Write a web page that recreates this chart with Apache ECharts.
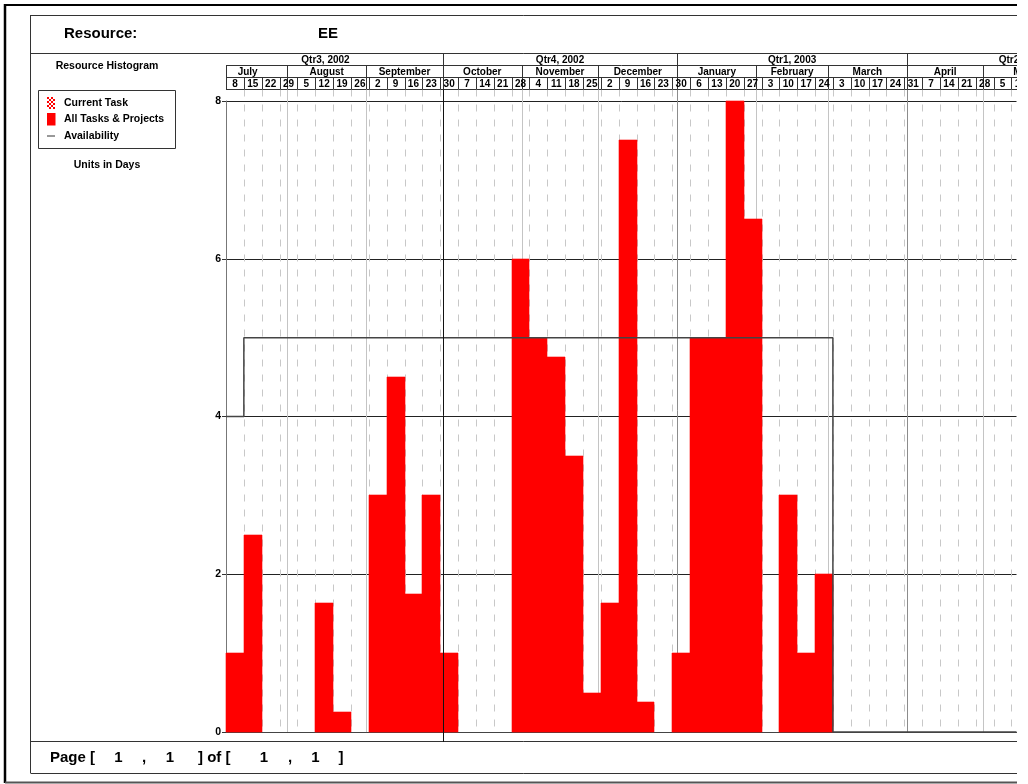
<!DOCTYPE html>
<html><head><meta charset="utf-8">
<script src="https://cdn.jsdelivr.net/npm/echarts@6/dist/echarts.min.js"></script>
<style>html,body{margin:0;padding:0;background:#fff;} #c{width:1017px;height:784px;}</style>
</head><body><div id="c"></div>
<script>
// ---------- data ----------
const resourceName = 'EE';
// week start labels (Mondays), first week = 8 July 2002 (day 0)
const weekLabels = ['8','15','22','29','5','12','19','26','2','9','16','23','30','7','14','21','28','4','11','18','25','2','9','16','23','30','6','13','20','27','3','10','17','24','3','10','17','24','31','7','14','21','28','5','12'];
// weekly work load (units in days)
const weekLoads = [1, 2.5, 0, 0, 0, 1.63, 0.25, 0, 3, 4.5, 1.75, 3, 1, 0, 0, 0, 6, 5, 4.75, 3.5, 0.5, 1.63, 7.5, 0.38, 0, 1, 5, 5, 8, 6.5, 0, 3, 1, 2, 0, 0, 0, 0, 0, 0, 0, 0, 0, 0, 0];
const monthNames = ['July','August','September','October','November','December','January','February','March','April','May'];
const monthStarts = [-7, 24, 55, 85, 116, 146, 177, 208, 236, 267, 297, 328]; // days from 8 Jul 2002
const quarterNames = ['Qtr3, 2002','Qtr4, 2002','Qtr1, 2003','Qtr2, 2003'];
const quarterStarts = [-7, 85, 177, 267, 358];
const currentDateDay = 85;
// availability step line
const availDays = [0, 7, 238, 310];
const availUnits = [4, 5, 0, 0];
const legendItems = ['Current Task', 'All Tasks & Projects', 'Availability'];

// ---------- layout ----------
const F = (s) => 'bold ' + s + 'px "Liberation Sans", Arial, Helvetica, sans-serif';
const X_MAX = 310;
const Y_HDR = 53, Y_MON = 65.5, Y_WK = 77.5, Y_WKB = 89.5;
const RIGHT = 1017;

const chart = echarts.init(document.getElementById('c'), null, {renderer: 'canvas'});

function weekGridRender(params, api) {
  const i = params.dataIndex;
  if (i === 0) return null;
  const x0 = Math.round(api.coord([api.value(0), 0])[0]) + 0.5;
  const yb = api.coord([0, 0])[1];
  return {type: 'line', shape: {x1: x0, y1: Y_WKB, x2: x0, y2: yb}, style: {stroke: '#c8c8c8', lineWidth: 1, lineDash: [7, 8]}};
}
function weekRender(params, api) {
  const i = params.dataIndex;
  const x0 = api.coord([api.value(0), 0])[0];
  const x1 = api.coord([api.value(1), 0])[0];
  const xs = Math.round(x0) + 0.5;
  const ch = [];
  ch.push({type: 'line', shape: {x1: xs, y1: Y_WK, x2: xs, y2: Y_WKB}, style: {stroke: '#333', lineWidth: 1}});
  ch.push({type: 'text', z2: 10, x: (x0 + x1) / 2, y: (Y_WK + Y_WKB) / 2 + 0.5, style: {text: weekLabels[i], font: F(10), fill: '#000', align: 'center', verticalAlign: 'middle'}});
  return {type: 'group', children: ch};
}
function monthRender(params, api) {
  const i = params.dataIndex;
  const s = api.value(0);
  const x0 = api.coord([s, 0])[0];
  const x1 = api.coord([api.value(1), 0])[0];
  const xs = Math.round(x0) + 0.5;
  const yb = api.coord([0, 0])[1];
  const ch = [];
  if (s >= 0) {
    ch.push({type: 'line', shape: {x1: xs, y1: Y_MON, x2: xs, y2: Y_WKB}, style: {stroke: '#333', lineWidth: 1}});
    if (s !== currentDateDay) {
      const isQ = quarterStarts.indexOf(s) >= 0;
      ch.push({type: 'line', shape: {x1: xs, y1: Y_WKB, x2: xs, y2: yb}, style: {stroke: isQ ? '#8c8c8c' : '#c4c4c4', lineWidth: 1}});
    }
  }
  ch.push({type: 'text', x: (x0 + x1) / 2, y: (Y_MON + Y_WK) / 2 + 0.5, style: {text: monthNames[i], font: F(10), fill: '#000', align: 'center', verticalAlign: 'middle'}});
  return {type: 'group', children: ch};
}
function quarterRender(params, api) {
  const i = params.dataIndex;
  const s = api.value(0);
  const x0 = api.coord([s, 0])[0];
  const x1 = api.coord([api.value(1), 0])[0];
  const xs = Math.round(x0) + 0.5;
  const ch = [];
  if (s >= 0) {
    ch.push({type: 'line', shape: {x1: xs, y1: Y_HDR, x2: xs, y2: Y_WKB}, style: {stroke: '#333', lineWidth: 1}});
    if (s === currentDateDay) {
      ch.push({type: 'line', shape: {x1: xs, y1: Y_WKB, x2: xs, y2: 742}, style: {stroke: '#111', lineWidth: 1}});
    }
  }
  ch.push({type: 'text', x: (x0 + x1) / 2, y: (Y_HDR + Y_MON) / 2 + 0.5, style: {text: quarterNames[i], font: F(10), fill: '#000', align: 'center', verticalAlign: 'middle'}});
  return {type: 'group', children: ch};
}
function barRender(params, api) {
  const v = api.value(2);
  if (!(v > 0)) return null;
  const p0 = api.coord([api.value(0), v]);
  const p1 = api.coord([api.value(1), 0]);
  const x0 = Math.round(p0[0]), x1 = Math.round(p1[0]);
  const y0 = Math.round(p0[1]), y1 = Math.round(p1[1]);
  return {type: 'rect', shape: {x: x0, y: y0, width: x1 - x0, height: y1 - y0}, style: {fill: '#ff0000', stroke: '#ff0000', lineWidth: 0.6}};
}

// left panel graphics
const checker = [];
for (let r = 0; r < 6; r++) for (let c = 0; c < 4; c++) {
  if ((r + c) % 2 === 0) checker.push({type: 'rect', shape: {x: 47 + c * 2, y: 97 + r * 2, width: 2, height: 2}, style: {fill: '#ff0000'}});
}
const ln = (x1, y1, x2, y2, stroke, w) => ({type: 'line', silent: true, shape: {x1, y1, x2, y2}, style: {stroke, lineWidth: w || 1}});
const tx = (text, x, y, size, align) => ({type: 'text', silent: true, x, y, style: {text, font: F(size), fill: '#000', align: align || 'left', verticalAlign: 'middle'}});

const graphic = [
  // outer border
  ln(5, 5, RIGHT, 5, '#000', 2),
  ln(5, 4, 5, 783, '#000', 2.5),
  ln(5, 782.5, RIGHT, 782.5, '#555', 2),
  // inner frame
  ln(30.5, 15, 30.5, 773, '#333', 1),
  ln(30.5, 15.5, RIGHT, 15.5, '#333', 1),
  ln(30.5, 773.5, RIGHT, 773.5, '#333', 1),
  ln(30.5, 53.5, RIGHT, 53.5, '#333', 1),
  ln(30.5, 741.5, RIGHT, 741.5, '#333', 1),
  // timescale rows
  ln(226, Y_MON, RIGHT, Y_MON, '#333', 1),
  ln(226, Y_WK, RIGHT, Y_WK, '#333', 1),
  ln(226, Y_WKB, RIGHT, Y_WKB, '#333', 1),
  ln(226.5, Y_MON, 226.5, Y_WKB, '#333', 1),
  // header text
  tx('Resource:', 64, 34, 15),
  tx(resourceName, 318, 34, 15),
  tx('Resource Histogram', 107, 66, 10.5, 'center'),
  // legend box
  {type: 'rect', silent: true, shape: {x: 38.5, y: 90.5, width: 137, height: 58}, style: {fill: 'none', stroke: '#333', lineWidth: 1}},
  {type: 'group', children: checker},
  {type: 'rect', silent: true, shape: {x: 47, y: 113, width: 8.5, height: 12.5}, style: {fill: '#ff0000'}},
  ln(47, 136, 55, 136, '#333', 1),
  tx(legendItems[0], 64, 103, 10.5),
  tx(legendItems[1], 64, 119.5, 10.5),
  tx(legendItems[2], 64, 136, 10.5),
  tx('Units in Days', 107, 165.5, 10.5, 'center'),
  // page footer
  tx('Page [', 50, 758, 15),
  tx('1', 118.5, 758, 15, 'center'),
  tx(',', 144, 758, 15, 'center'),
  tx('1', 170, 758, 15, 'center'),
  tx('] of [', 198, 758, 15),
  tx('1', 264, 758, 15, 'center'),
  tx(',', 290, 758, 15, 'center'),
  tx('1', 315.5, 758, 15, 'center'),
  tx(']', 341, 758, 15, 'center')
];

const weekData = weekLabels.map((_, i) => [i * 7, i * 7 + 7, 0]);
const option = {
  animation: false,
  backgroundColor: '#fff',
  textStyle: {fontFamily: '"Liberation Sans", Arial, sans-serif'},
  grid: {left: 226, top: 101, width: X_MAX * 2.55, height: 631, containLabel: false},
  xAxis: {
    type: 'value', min: 0, max: X_MAX,
    axisLine: {show: true, lineStyle: {color: '#444', width: 1}},
    axisTick: {show: false}, axisLabel: {show: false}, splitLine: {show: false}
  },
  yAxis: {
    type: 'value', min: 0, max: 8, interval: 2,
    axisLine: {show: true, lineStyle: {color: '#777', width: 1}},
    axisTick: {show: true, length: 4, lineStyle: {color: '#333'}},
    axisLabel: {color: '#000', fontWeight: 'bold', fontSize: 10.5, margin: 5, fontFamily: '"Liberation Sans", Arial, sans-serif'},
    splitLine: {show: true, lineStyle: {color: '#222', width: 1}}
  },
  graphic: graphic,
  series: [
    {type: 'custom', name: 'weekGrid', z: 1, silent: true, renderItem: weekGridRender,
     encode: {x: [0, 1], y: 2}, data: weekData},
    {type: 'custom', name: 'months', z: 1, silent: true, renderItem: monthRender,
     encode: {x: [0, 1], y: 2}, data: monthNames.map((_, i) => [monthStarts[i], monthStarts[i + 1], 0])},
    {type: 'custom', name: 'All Tasks & Projects', z: 2, silent: true, renderItem: barRender,
     encode: {x: [0, 1], y: 2}, data: weekLoads.map((v, i) => [i * 7, i * 7 + 7, v])},
    {type: 'line', name: 'Availability', z: 3, silent: true, step: 'end', symbol: 'none',
     lineStyle: {color: '#444', width: 1.5},
     data: availDays.map((d, i) => [d, availUnits[i]])},
    {type: 'custom', name: 'quarters', z: 4, silent: true, renderItem: quarterRender,
     encode: {x: [0, 1], y: 2}, data: quarterNames.map((_, i) => [quarterStarts[i], quarterStarts[i + 1], 0])},
    {type: 'custom', name: 'weeks', z: 5, silent: true, renderItem: weekRender,
     encode: {x: [0, 1], y: 2}, data: weekData}
  ]
};
chart.setOption(option);
</script></body></html>
